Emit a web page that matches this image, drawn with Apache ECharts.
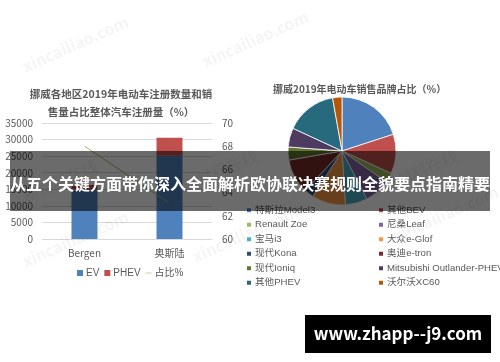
<!DOCTYPE html>
<html>
<head>
<meta charset="utf-8">
<script src="https://cdn.jsdelivr.net/npm/echarts@6/dist/echarts.min.js"></script>
<style>
html,body{margin:0;padding:0;background:#fff;}
#chart{width:500px;height:362px;}
</style>
</head>
<body>
<div id="chart"></div>
<script>
// ---- data ----
const cities = ['Bergen', '奥斯陆'];
const evValues = [15000, 25100];
const phevValues = [1300, 5450];
const shareValues = [68.0, 63.1];
const leftTicks = [0, 35000, 5000];
const rightTicks = [60, 70, 2];

const brands = ['特斯拉Model3', '其他BEV', 'Renault Zoe', '尼桑Leaf', '宝马i3', '大众e-Glof',
  '现代Kona', '奥迪e-tron', '现代Ioniq', 'Mitsubishi Outlander-PHEV', '其他PHEV', '沃尔沃XC60'];
const brandShares = [20.0, 11.8, 2.9, 7.7, 6.6, 10.1, 2.8, 10.4, 3.9, 5.7, 15.3, 2.8];
const brandColors = ['#4f81bd', '#c0504d', '#9bbb59', '#8064a2', '#4bacc6', '#f79646',
  '#2c4d75', '#772c2a', '#5f7530', '#4d3b62', '#276a7d', '#b65708'];

const leftTitle = '挪威各地区2019年电动车注册数量和销\n售量占比整体汽车注册量（%）';
const rightTitle = '挪威2019年电动车销售品牌占比（%）';
const bannerText = '从五个关键方面带你深入全面解析欧协联决赛规则全貌要点指南精要';
const siteText = 'www.zhapp--j9.com';

const FONT = '"Noto Sans CJK SC", "Noto Sans", sans-serif';
const LFONT = '"Liberation Sans", "Noto Sans CJK SC", sans-serif';
const GRAY = '#595959';

const chart = echarts.init(document.getElementById('chart'));

const leftCol = brands.filter((b, i) => i % 2 === 0);
const rightCol = brands.filter((b, i) => i % 2 === 1);

function wm(text, x, y) {
  return {
    type: 'text', x: x, y: y, rotation: Math.PI / 7.5, z: 1,
    style: { text: text, fill: 'rgba(0,0,0,0.045)', font: 'bold 16px ' + FONT }
  };
}

const legText = { fontSize: 9.6, color: GRAY, fontFamily: LFONT, lineHeight: 14.5, padding: [0, 0, 0, -2] };

chart.setOption({
  animation: false,
  backgroundColor: '#fff',
  textStyle: { fontFamily: FONT },
  title: [
    { text: leftTitle, left: 116, top: 80, textAlign: 'center',
      textStyle: { fontSize: 10.5, fontWeight: 'bold', color: GRAY, lineHeight: 18, fontFamily: FONT } },
    { text: rightTitle, left: 268, top: 79,
      textStyle: { fontSize: 10, fontWeight: 'bold', color: GRAY, fontFamily: FONT } }
  ],
  legend: [
    { left: 72, top: 263, itemWidth: 6, itemHeight: 6, itemGap: 5,
      textStyle: { fontSize: 10, color: GRAY, fontFamily: LFONT, padding: [0, 0, 0, -2] },
      data: [
        { name: 'EV', icon: 'rect' },
        { name: 'PHEV', icon: 'rect' },
        { name: '占比%', icon: 'path://M0,4 L10,4 L10,5 L0,5 Z', itemStyle: { color: '#9bbb59' } }
      ] },
    { orient: 'vertical', left: 240, top: 198, itemWidth: 6, itemHeight: 6, itemGap: 0, icon: 'rect',
      textStyle: legText, data: leftCol },
    { orient: 'vertical', left: 372, top: 198, itemWidth: 6, itemHeight: 6, itemGap: 0, icon: 'rect',
      textStyle: legText, data: rightCol }
  ],
  grid: { left: 42, right: 288, top: 123, bottom: 123 },
  xAxis: {
    type: 'category', data: cities,
    axisLine: { lineStyle: { color: '#d9d9d9' } },
    axisTick: { show: false },
    axisLabel: { color: GRAY, fontSize: 10, margin: 9 }
  },
  yAxis: [
    { type: 'value', min: leftTicks[0], max: leftTicks[1], interval: leftTicks[2],
      axisLine: { show: false }, axisTick: { show: false },
      axisLabel: { color: GRAY, fontSize: 10, margin: 9, formatter: v => String(v) },
      splitLine: { lineStyle: { color: '#d9d9d9' } } },
    { type: 'value', min: rightTicks[0], max: rightTicks[1], interval: rightTicks[2],
      axisLine: { show: false }, axisTick: { show: false },
      axisLabel: { color: GRAY, fontSize: 10, margin: 10, formatter: v => String(v) },
      splitLine: { show: false } }
  ],
  series: [
    { name: 'EV', type: 'bar', stack: 'a', barWidth: 26, data: evValues,
      itemStyle: { color: '#4f81bd' } },
    { name: 'PHEV', type: 'bar', stack: 'a', barWidth: 26, data: phevValues,
      itemStyle: { color: '#c0504d' } },
    { name: '占比%', type: 'line', yAxisIndex: 1, data: shareValues, showSymbol: false, symbol: 'none',
      lineStyle: { color: '#9bbb59', width: 1 }, itemStyle: { color: '#9bbb59' } },
    { name: '品牌', type: 'pie', center: [342, 151], radius: 54, startAngle: 90, clockwise: true,
      label: { show: false }, labelLine: { show: false },
      itemStyle: { borderColor: '#fff', borderWidth: 0.8 },
      data: brands.map((b, i) => ({ name: b, value: brandShares[i], itemStyle: { color: brandColors[i] } })) }
  ],
  graphic: [
    wm('xincailiao.com', 20, 60),
    wm('xincailiao.com', 200, 55),
    wm('新材料在线', 20, 190),
    wm('新材料在线', 180, 180),
    wm('xincailiao.com', 20, 255),
    wm('xincailiao.com', 190, 250),
    wm('新材料在线', 380, 180),
    wm('xincailiao.com', 390, 230),
    { type: 'rect', z: 100, shape: { x: 10, y: 151, width: 480, height: 60 },
      style: { fill: 'rgba(0,0,0,0.58)' } },
    { type: 'text', z: 101, x: 250, y: 184,
      style: { text: bannerText, fill: '#fff', font: 'bold 16px ' + FONT, align: 'center', verticalAlign: 'middle' } },
    { type: 'rect', z: 100, shape: { x: 305, y: 315, width: 186, height: 38 },
      style: { fill: '#000' } },
    { type: 'text', z: 101, x: 398, y: 334,
      style: { text: siteText, fill: '#fff', font: 'bold 17px ' + FONT, align: 'center', verticalAlign: 'middle' } }
  ]
});
</script>
</body>
</html>
